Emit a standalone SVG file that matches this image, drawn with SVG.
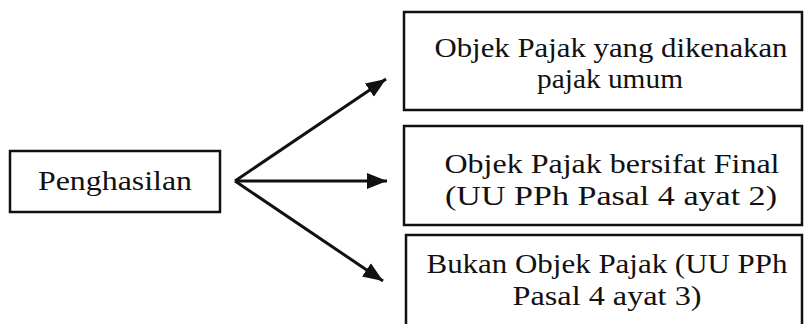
<svg xmlns="http://www.w3.org/2000/svg" width="804" height="324" viewBox="0 0 804 324">
<defs>
<style>
.box{fill:#fff;stroke:#111;stroke-width:2.5}
.t{font-family:"Times New Roman","Liberation Serif",Tinos,Times,serif;font-size:28px;fill:#111;text-anchor:middle}
.edge{stroke:#111;stroke-width:3;fill:none;marker-end:url(#ah)}
</style>
<marker id="ah" markerUnits="userSpaceOnUse" markerWidth="24" markerHeight="20" refX="20" refY="8" orient="auto" viewBox="0 0 24 16">
<path d="M0,0 L20,8 L0,16 Z" fill="#111"/>
</marker>
</defs>
<rect width="804" height="324" fill="#fff"/>
<g id="penghasilan">
<rect class="box" x="10" y="151" width="210" height="61"/>
<text class="t" x="115" y="190" textLength="154" lengthAdjust="spacingAndGlyphs">Penghasilan</text>
</g>
<g id="objek-umum">
<rect class="box" x="404" y="12" width="398" height="98"/>
<text class="t" x="611" y="57" textLength="353" lengthAdjust="spacingAndGlyphs">Objek Pajak yang dikenakan</text>
<text class="t" x="610" y="88" textLength="146" lengthAdjust="spacingAndGlyphs">pajak umum</text>
</g>
<g id="objek-final">
<rect class="box" x="404" y="126" width="398" height="99"/>
<text class="t" x="612" y="173" textLength="335" lengthAdjust="spacingAndGlyphs">Objek Pajak bersifat Final</text>
<text class="t" x="611" y="205" textLength="332" lengthAdjust="spacingAndGlyphs">(UU PPh Pasal 4 ayat 2)</text>
</g>
<g id="bukan-objek">
<rect class="box" x="406" y="235" width="396" height="100"/>
<text class="t" x="607" y="273" textLength="361" lengthAdjust="spacingAndGlyphs">Bukan Objek Pajak (UU PPh</text>
<text class="t" x="607" y="305" textLength="189" lengthAdjust="spacingAndGlyphs">Pasal 4 ayat 3)</text>
</g>
<g id="connectors">
<line class="edge" x1="235" y1="181" x2="386" y2="79"/>
<line class="edge" x1="235" y1="181" x2="387" y2="181"/>
<line class="edge" x1="235" y1="181" x2="383" y2="281"/>
</g>
</svg>
